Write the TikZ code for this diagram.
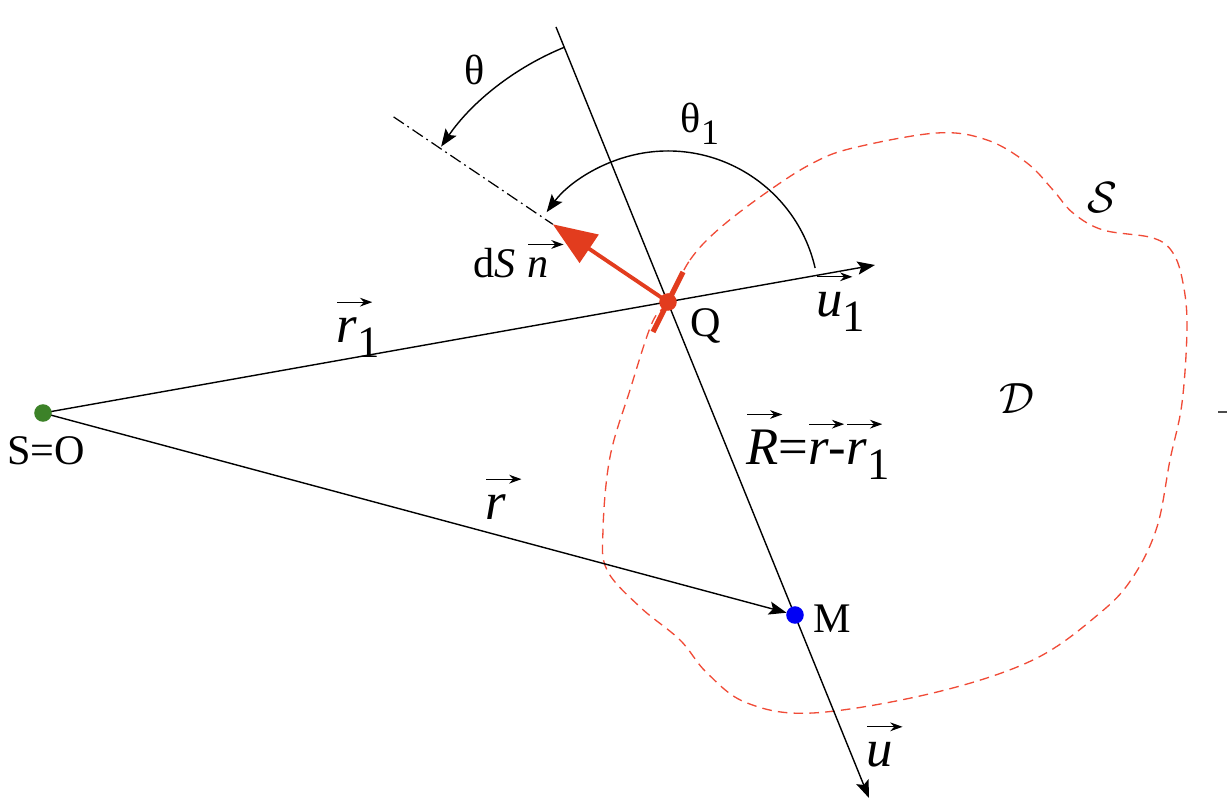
\documentclass[tikz,border=0pt]{standalone}
\usepackage{fontspec}
\usepackage{graphicx}
\setmainfont{Liberation Serif}
\usetikzlibrary{arrows.meta}
\definecolor{redarr}{RGB}{226,60,30}
\definecolor{redcurve}{RGB}{240,75,55}
\definecolor{greendot}{RGB}{60,130,40}
\definecolor{bluedot}{RGB}{0,0,245}
\newcommand\vecv[1]{\setbox0\hbox{\itshape #1}\leavevmode\rlap{\raisebox{\dimexpr\ht0+0.22em\relax}{\tikz\draw[line width=0.65pt,-{Stealth[length=7pt,width=5pt]}] (0pt,0pt)--(20pt,0pt);}}\box0}
\newcommand\lsub[1]{\raisebox{-0.27em}{\scalebox{0.85}{#1}}}
\begin{document}
\begin{tikzpicture}[x=0.02cm,y=0.02cm,
  lab/.style={font=\fontsize{24}{28}\selectfont, inner sep=0pt, anchor=base},
  vlab/.style={font=\fontsize{30}{34}\selectfont, inner sep=0pt, anchor=base},
  ln/.style={line width=0.8pt, black},
  arr/.style={-{Stealth[length=10pt,width=7.5pt,inset=2pt]}},
  dotnode/.style={circle, inner sep=0pt, minimum size=10pt}]
\useasboundingbox (0,0) rectangle (1228,803);
% points
\coordinate (O) at (43,390);
\coordinate (Q) at (668,501);
\coordinate (M) at (795,188);
\coordinate (Top) at (556,776);
\coordinate (Bot) at (869,5);
\coordinate (U1) at (875,538);
\coordinate (Ntip) at ([shift={(146:139)}]Q);
\coordinate (Nfar) at ([shift={(146:331)}]Q);
\coordinate (T1) at (653,471);
\coordinate (T2) at (683,531);
% surface
\draw[redcurve, line width=0.75pt, dash pattern=on 5.5pt off 3.5pt]
  plot[smooth cycle, tension=0.6] coordinates {
  (668,501) (690,543) (720,575) (770,613) (813,640) (853,655) (937,670) (987,663)
  (1027,640) (1053,613) (1073,590) (1103,573) (1153,565) (1173,550)
  (1183,520) (1187,476) (1182,400) (1170,343) (1157,276) (1133,226)
  (1100,190) (1033,143) (933,110) (813,90) (747,100) (707,130) (680,163)
  (640,196) (607,233) (603,273) (610,346) (630,413) (652,480)};
% lines
\draw[ln, arr] (Top) -- (Bot);
\draw[ln, arr] (O) -- (U1);
\draw[ln, arr, shorten >=5pt] (O) -- (M);
\draw[ln, line width=0.7pt, dash pattern=on 7pt off 2.5pt on 1pt off 2.5pt] (Nfar) -- (Ntip);
% angles
\draw[ln, arr] ([shift={(112.1:275)}]Q) arc[start angle=112.1, end angle=145.6, radius=275];
\draw[ln, arr] ([shift={(13:151)}]Q) arc[start angle=13, end angle=143.5, radius=151];
% red normal and surface element
\draw[redarr, line width=3pt] (T1) -- (T2);
\draw[redarr, line width=2.2pt, -{Triangle[length=25pt,width=19pt]}] (Q) -- (Ntip);
% dots
\node[dotnode, fill=greendot] (Odot) at (O) {};
\node[dotnode, fill=redarr] (Qdot) at (Q) {};
\node[dotnode, fill=bluedot] (Mdot) at (M) {};
% labels
\node[lab] (lSO) at (46,338) {S=O};
\node[lab] (lQ) at (706,466) {Q};
\node[lab] (lM) at (832,170) {M};
\node[lab] (lth) at (475,718) {θ};
\node[lab] (lth1) at (700,670) {θ\lsub{1}};
\node[lab, font=\fontsize{24}{28}\selectfont] (ldS) at (511,525) {d\textit{S}\hspace{0.3em}\vecv{n}};
\node[vlab] (lr1) at (358,460) {\vecv{r}\lsub{1}};
\node[vlab] (lr) at (496,283) {\vecv{r}};
\node[vlab] (lu1) at (841,486) {\vecv{u}\lsub{1}};
\node[vlab] (lu) at (880,36) {\vecv{u}};
\node[vlab] (lR) at (818,338) {\vecv{R}=\vecv{r}-\vecv{r}\lsub{1}};
\node[lab, anchor=center] (lD) at (1017,404) {$\mathcal{D}$};
\node[lab, anchor=center] (lS) at (1102,605) {$\mathcal{S}$};
\draw[black!70, line width=0.8pt] (1218,391) -- (1227,391);
\end{tikzpicture}
\end{document}
